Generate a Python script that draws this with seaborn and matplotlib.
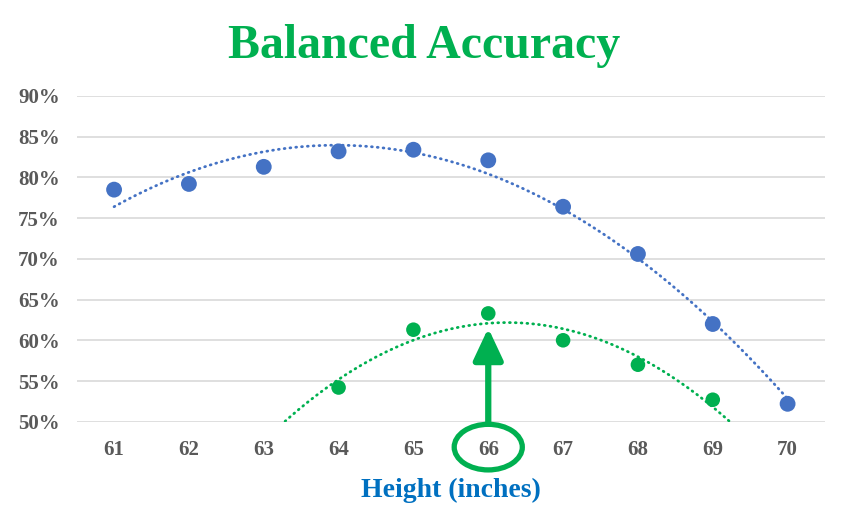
import numpy as np
import pandas as pd
import matplotlib
matplotlib.use("Agg")
import matplotlib.pyplot as plt
import seaborn as sns
from matplotlib.patches import Ellipse
from matplotlib.transforms import blended_transform_factory

heights_blue = [61, 62, 63, 64, 65, 66, 67, 68, 69, 70]
acc_blue = [78.5, 79.2, 81.3, 83.2, 83.4, 82.1, 76.4, 70.6, 62.0, 52.2]
heights_green = [64, 65, 66, 67, 68, 69]
acc_green = [54.2, 61.3, 63.3, 60.0, 57.0, 52.7]
x_ticks = list(range(61, 71))
y_ticks = [50, 55, 60, 65, 70, 75, 80, 85, 90]

BLUE = "#4472C4"
GREEN = "#00B050"

sns.set_theme(style="white")
plt.rcParams["font.family"] = ["Liberation Serif", "DejaVu Serif"]

fig = plt.figure(figsize=(8.48, 5.24), dpi=100)
ax = fig.add_axes([0.0904, 0.1952, 0.8825, 0.6216])

df_b = pd.DataFrame({"h": heights_blue, "acc": acc_blue})
df_g = pd.DataFrame({"h": heights_green, "acc": acc_green})

# quadratic trendlines (computed from data)
dots = (0, (0.3, 1.8))
cb = np.polyfit(df_b["h"], df_b["acc"], 2)
xb = np.linspace(61, 70, 300)
ax.plot(xb, np.polyval(cb, xb), color=BLUE, lw=2.0, ls=dots,
        dash_capstyle="round", zorder=2)
cg = np.polyfit(df_g["h"], df_g["acc"], 2)
xg = np.linspace(63, 70, 300)
ax.plot(xg, np.polyval(cg, xg), color=GREEN, lw=2.0, ls=dots,
        dash_capstyle="round", zorder=2)

sns.scatterplot(data=df_b, x="h", y="acc", ax=ax, color=BLUE, s=130,
                edgecolor="none", zorder=3)
sns.scatterplot(data=df_g, x="h", y="acc", ax=ax, color=GREEN, s=110,
                edgecolor="none", zorder=3)

ax.set_xlim(60.5, 70.5)
ax.set_ylim(50, 90)
ax.set_xticks(x_ticks)
ax.set_xticklabels([str(t) for t in x_ticks])
ax.set_yticks(y_ticks)
ax.set_yticklabels([f"{t}%" for t in y_ticks])
ax.grid(axis="y", color="#D9D9D9", lw=1.2)
ax.set_axisbelow(True)
for s in ax.spines.values():
    s.set_visible(False)
ax.tick_params(axis="both", length=0, labelsize=15, labelcolor="#595959")
ax.tick_params(axis="y", pad=12)
ax.tick_params(axis="x", pad=13)
for lab in ax.get_xticklabels() + ax.get_yticklabels():
    lab.set_fontweight("bold")

ax.set_xlabel("Height (inches)", fontsize=20, fontweight="bold", color="#0070C0",
              labelpad=13)
ax.set_ylabel("")

fig.text(0.5, 0.913, "Balanced Accuracy", ha="center", va="center",
         fontsize=34.5, fontweight="bold", color=GREEN)

# arrow pointing at 66
ax.annotate("", xy=(66, 61.5), xytext=(66, 49.8),
            arrowprops=dict(arrowstyle="-|>,head_width=0.75,head_length=1.6",
                            color=GREEN, lw=4.5, shrinkA=0, shrinkB=0),
            annotation_clip=False, zorder=4)
trans = blended_transform_factory(ax.transData, ax.transAxes)
ell = Ellipse((66, -0.078), width=0.91, height=0.14, transform=trans,
              fill=False, edgecolor=GREEN, lw=3.8, clip_on=False, zorder=4)
ax.add_patch(ell)

fig.savefig("out.png", dpi=100)
